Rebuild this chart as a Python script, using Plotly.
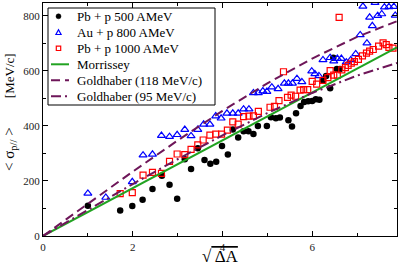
import plotly.graph_objects as go

# ---- data ----
pb500_x = [1.00, 1.72, 1.99, 2.22, 2.44, 2.65, 2.82, 2.99, 3.16, 3.30, 3.45, 3.60, 3.73, 3.86, 3.99,
           4.12, 4.23, 4.35, 4.47, 4.58, 4.69, 4.79, 4.99, 5.08, 5.19, 5.28, 5.47, 5.55, 5.64, 5.74,
           5.82, 5.91, 6.00, 6.08, 6.16, 6.24, 6.31, 6.40, 6.47, 6.55, 6.62]
pb500_y = [110, 93, 109, 132, 171, 219, 186, 135, 279, 244, 319, 276, 263, 270, 327,
           296, 387, 358, 381, 381, 371, 400, 400, 432, 428, 431, 421, 398, 446, 473,
           487, 490, 491, 497, 495, 565, 582, 537, 648, 607, 607]

au800_x = [1.00, 1.40, 1.99, 2.23, 2.44, 2.64, 2.82, 2.99, 3.16, 3.30, 3.45, 3.58, 3.72, 3.85, 3.97,
           4.10, 4.23, 4.35, 4.47, 4.59, 4.69, 4.80, 4.90, 4.99, 5.10, 5.24, 5.38, 5.47, 5.56, 5.66,
           5.77, 5.99, 6.06, 6.15, 6.24, 6.40, 6.48, 6.56, 6.65, 6.76, 6.86, 6.97, 7.07, 7.13, 7.22,
           7.28, 7.34, 7.40, 7.46, 7.55, 7.61, 7.71, 7.82, 7.85]
au800_y = [155, 140, 197, 294, 297, 365, 361, 368, 387, 364, 387, 406, 406, 436, 428,
           446, 446, 446, 461, 461, 520, 520, 527, 525, 541, 535, 555, 555, 555, 572,
           560, 599, 589, 582, 640, 648, 636, 645, 645, 632, 640, 662, 731, 835, 701,
           795, 764, 848, 801, 807, 832, 833, 834, 802]

pb1000_x = [1.72, 1.99, 2.23, 2.44, 2.64, 2.82, 2.99, 3.16, 3.30, 3.45, 3.57, 3.72, 3.85, 3.98, 4.11,
            4.23, 4.35, 4.47, 4.59, 4.69, 4.80, 5.06, 5.16, 5.26, 5.36, 5.45, 5.53, 5.63, 5.73, 5.81,
            5.90, 6.00, 6.10, 6.24, 6.35, 6.40, 6.48, 6.56, 6.60, 6.66, 6.74, 6.80, 6.87, 6.94, 7.03,
            7.12, 7.21, 7.28, 7.36, 7.48, 7.58, 7.65, 7.71, 7.80]
pb1000_y = [154, 158, 221, 231, 228, 271, 298, 296, 315, 331, 349, 367, 370, 370, 385,
            415, 407, 434, 436, 437, 453, 468, 471, 492, 597, 504, 512, 508, 530, 532,
            532, 562, 552, 566, 576, 601, 585, 585, 795, 604, 612, 620, 628, 634, 642,
            655, 665, 672, 678, 690, 702, 696, 686, 683]

morrissey_x = [0.0, 7.89]
morrissey_y = [0, 686]

gold118_x = [0, 1, 2, 3, 4, 5, 6, 7, 7.89]
gold118_y = [0, 118, 234, 347, 455, 555, 645, 724, 781]

gold95_x = [0, 1, 2, 3, 4, 5, 6, 7, 7.89]
gold95_y = [0, 95, 189, 279, 366, 447, 520, 583, 629]

x_ticks = [0, 2, 4, 6]
y_ticks = [0, 200, 400, 600, 800]

SERIF = "Liberation Serif"
PURPLE = "#6e1659"
GREEN = "#21a321"
BLUE = "#0000ff"
RED = "#ff0000"

# figure geometry (pixels)
W, H = 399, 271
ML, MR, MT, MB = 43, 2, 3, 35
PW, PH = W - ML - MR, H - MT - MB


def px(xp):
    return (xp - ML) / PW


def py(yp):
    return (H - MB - yp) / PH


DASH_118 = "9px,5px"
DASH_95 = "10px,4px,2px,4px"

series = [
    dict(name="Pb + p 500 AMeV", kind="marker", sym="circle"),
    dict(name="Au + p 800 AMeV", kind="marker", sym="triangle"),
    dict(name="Pb + p 1000 AMeV", kind="marker", sym="square"),
    dict(name="Morrissey", kind="line", color=GREEN, dash="solid"),
    dict(name="Goldhaber (118 MeV/c)", kind="line", color=PURPLE, dash=DASH_118),
    dict(name="Goldhaber (95 MeV/c)", kind="line", color=PURPLE, dash=DASH_95),
]

fig = go.Figure()
fig.add_trace(go.Scatter(x=pb500_x, y=pb500_y, mode="markers", name=series[0]["name"],
                         marker=dict(symbol="circle", size=6.5, color="black")))
fig.add_trace(go.Scatter(x=au800_x, y=au800_y, mode="markers", name=series[1]["name"],
                         marker=dict(symbol="triangle-up-open", size=7, color=BLUE,
                                     line=dict(width=1.2))))
fig.add_trace(go.Scatter(x=pb1000_x, y=pb1000_y, mode="markers", name=series[2]["name"],
                         marker=dict(symbol="square-open", size=6, color=RED,
                                     line=dict(width=1.2))))
fig.add_trace(go.Scatter(x=morrissey_x, y=morrissey_y, mode="lines", name=series[3]["name"],
                         line=dict(color=GREEN, width=2)))
fig.add_trace(go.Scatter(x=gold118_x, y=gold118_y, mode="lines", name=series[4]["name"],
                         line=dict(color=PURPLE, width=2, dash=DASH_118)))
fig.add_trace(go.Scatter(x=gold95_x, y=gold95_y, mode="lines", name=series[5]["name"],
                         line=dict(color=PURPLE, width=2, dash=DASH_95)))

axis_common = dict(showline=True, linecolor="black", linewidth=1, mirror="allticks",
                   ticks="inside", ticklen=5, tickcolor="black", showgrid=False, zeroline=False,
                   automargin=False,
                   tickfont=dict(family=SERIF, size=11, color="#222"))

fig.update_xaxes(range=[0, 7.89], tickvals=x_ticks, ticktext=[str(v) for v in x_ticks],
                 minor=dict(ticks="inside", ticklen=3, dtick=1, tickcolor="black"),
                 ticklabelstandoff=1, **axis_common)
fig.update_yaxes(range=[0, 847], tickvals=y_ticks, ticktext=[str(v) for v in y_ticks],
                 minor=dict(ticks="inside", ticklen=3, dtick=100, tickcolor="black"),
                 **axis_common)

# ---- hand-built legend (compact rows as in the reference) ----
shapes = []
annotations = []
box_l, box_r, box_t, box_b = 48, 215, 8, 105
shapes.append(dict(type="rect", xref="paper", yref="paper", layer="above",
                   x0=px(box_l), x1=px(box_r), y0=py(box_b), y1=py(box_t),
                   fillcolor="white", line=dict(color="black", width=1)))
row0, row_gap = 16.3, 16.0
sym_x, line_x0, line_x1, text_x = 58.5, 51, 69, 75
for i, s in enumerate(series):
    yc = row0 + i * row_gap
    if s["kind"] == "line":
        shapes.append(dict(type="line", xref="paper", yref="paper", layer="above",
                           x0=px(line_x0), x1=px(line_x1), y0=py(yc), y1=py(yc),
                           line=dict(color=s["color"], width=2, dash=s["dash"])))
    else:
        common = dict(xref="paper", yref="paper", layer="above",
                      xsizemode="pixel", ysizemode="pixel", xanchor=px(sym_x), yanchor=py(yc))
        if s["sym"] == "circle":
            shapes.append(dict(type="circle", x0=-2.5, x1=2.5, y0=-2.5, y1=2.5,
                               fillcolor="black", line=dict(color="black", width=0.5), **common))
        elif s["sym"] == "triangle":
            shapes.append(dict(type="path", path="M-2.6,-2.2 L2.6,-2.2 L0,2.6 Z",
                               fillcolor="white", line=dict(color=BLUE, width=1.2), **common))
        else:
            shapes.append(dict(type="rect", x0=-2.2, x1=2.2, y0=-2.2, y1=2.2,
                               fillcolor="white", line=dict(color=RED, width=1.2), **common))
    annotations.append(dict(text=s["name"], xref="paper", yref="paper",
                            x=px(text_x), y=py(yc), xanchor="left", yanchor="middle",
                            showarrow=False, font=dict(family=SERIF, size=13, color="black")))

# axis titles
y_title = ("<span style='font-size:15px'>< σ<sub>p//</sub> ></span>"
           + "&nbsp;" * 9 + "[MeV/c]")
annotations.append(dict(text=y_title,
                        xref="paper", yref="paper", x=px(10), y=py(112), textangle=-90,
                        xanchor="center", yanchor="middle", showarrow=False,
                        font=dict(family=SERIF, size=13, color="black")))
annotations.append(dict(text="√<span style='text-decoration:overline'> ΔA</span>",
                        xref="paper", yref="paper", x=px(220), y=py(268),
                        xanchor="center", yanchor="bottom", showarrow=False,
                        font=dict(family=SERIF, size=17, color="black")))

fig.update_layout(
    width=W, height=H,
    margin=dict(l=ML, r=MR, t=MT, b=MB),
    paper_bgcolor="white", plot_bgcolor="white",
    showlegend=False,
    shapes=shapes,
    annotations=annotations,
)

fig.write_html("out.html", config={"displayModeBar": False},
               post_script="document.body.style.margin='0';document.body.style.overflow='hidden';")
